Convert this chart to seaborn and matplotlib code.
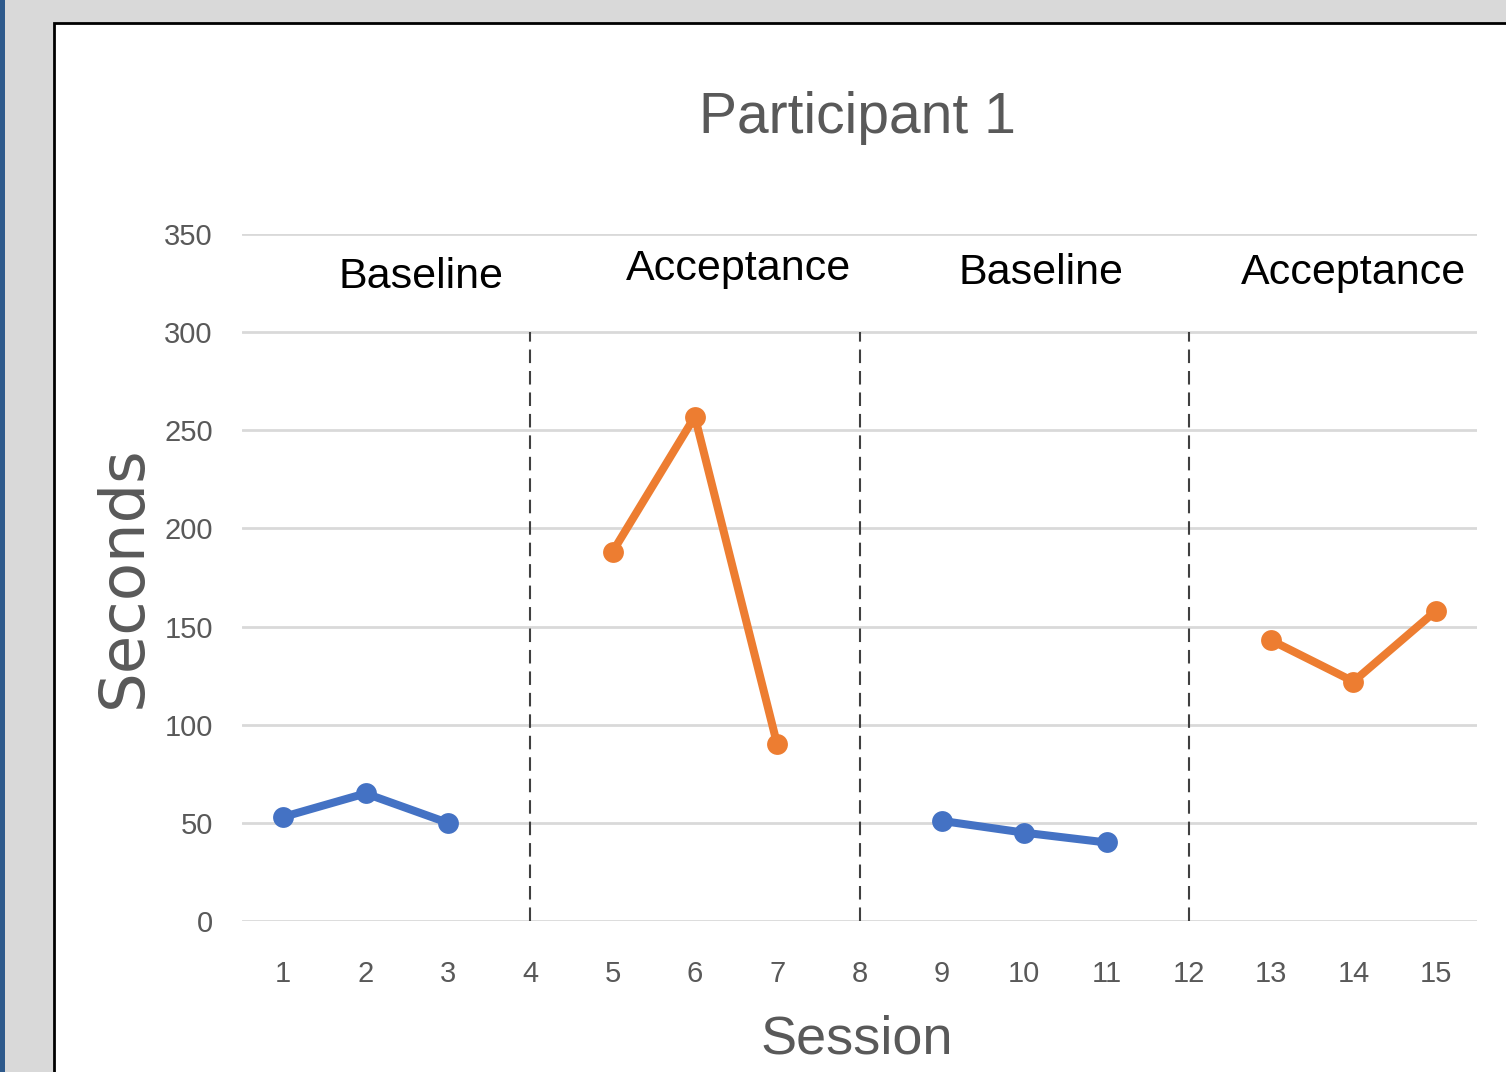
import matplotlib
matplotlib.use("Agg")
import matplotlib.pyplot as plt
from matplotlib.patches import Rectangle
import numpy as np
import pandas as pd
import seaborn as sns

# Session-by-session durations (seconds) for each phase
sessions = [1, 2, 3, 5, 6, 7, 9, 10, 11, 13, 14, 15]
seconds = [53, 65, 50, 188, 257, 90, 51, 45, 40, 143, 122, 158]
phase = ["Baseline"] * 3 + ["Acceptance"] * 3 + ["Baseline"] * 3 + ["Acceptance"] * 3
segment = [1] * 3 + [2] * 3 + [3] * 3 + [4] * 3

phase_names = ["Baseline", "Acceptance", "Baseline", "Acceptance"]
phase_label_x = [2.67, 6.53, 10.2, 14.0]
phase_label_y = [328, 332, 330, 330]
phase_changes = [4, 8, 12]
x_ticks = list(range(1, 16))
y_ticks = [0, 50, 100, 150, 200, 250, 300, 350]

df = pd.DataFrame({"Session": sessions, "Seconds": seconds,
                   "Phase": phase, "Segment": segment})

sns.set_theme(style="white")
plt.rcParams["font.family"] = ["Liberation Sans", "DejaVu Sans"]

W, H = 1506, 1072
fig = plt.figure(figsize=(W / 100, H / 100), dpi=100)
fig.patch.set_facecolor("#d9d9d9")

# window frame: blue strip at the left, white chart sheet with black edge
fig.add_artist(Rectangle((0, 0), 5 / W, 1, transform=fig.transFigure,
                         facecolor="#2e5a8c", edgecolor="none", zorder=0))
fig.add_artist(Rectangle((54 / W, -0.01), 1.0, 1 - 23 / H + 0.01,
                         transform=fig.transFigure, facecolor="white",
                         edgecolor="black", linewidth=2, zorder=0))

ax = fig.add_axes([242 / W, 1 - 921 / H, (1477 - 242) / W, (921 - 234) / H])
ax.set_facecolor("none")

sns.lineplot(data=df, x="Session", y="Seconds", hue="Phase", units="Segment",
             estimator=None, palette={"Baseline": "#4472c4", "Acceptance": "#ed7d31"},
             marker="o", markersize=15, markeredgewidth=0, linewidth=5.8,
             legend=False, ax=ax, zorder=3)

for xc in phase_changes:
    ax.plot([xc, xc], [0, 300], color="#404040", linewidth=1.5,
            linestyle=(0, (6.5, 3.8)), zorder=2)

for name, lx, ly in zip(phase_names, phase_label_x, phase_label_y):
    ax.text(lx, ly, name, ha="center", va="center", fontsize=31, color="black")

ax.set_xlim(0.5, 15.5)
ax.set_ylim(0, 350)
ax.set_xticks(x_ticks)
ax.set_yticks(y_ticks)
ax.tick_params(axis="both", length=0, labelsize=21, labelcolor="#595959")
ax.tick_params(axis="x", pad=28)
ax.tick_params(axis="y", pad=21)
ax.yaxis.grid(True, color="#d9d9d9", linewidth=2)
ax.xaxis.grid(False)
for s in ax.spines.values():
    s.set_visible(False)
ax.set_xlabel("")
ax.set_ylabel("")

fig.text(857 / W, 1 - 118 / H, "Participant 1", ha="center", va="center",
         fontsize=41, color="#595959")
fig.text(857 / W, 1 - 1040 / H, "Session", ha="center", va="center",
         fontsize=39, color="#595959")
fig.text(124 / W, 1 - 577 / H, "Seconds", ha="center", va="center",
         rotation=90, fontsize=45, color="#595959", family=["DejaVu Sans"])

fig.savefig("out.png", dpi=100, facecolor=fig.get_facecolor())
